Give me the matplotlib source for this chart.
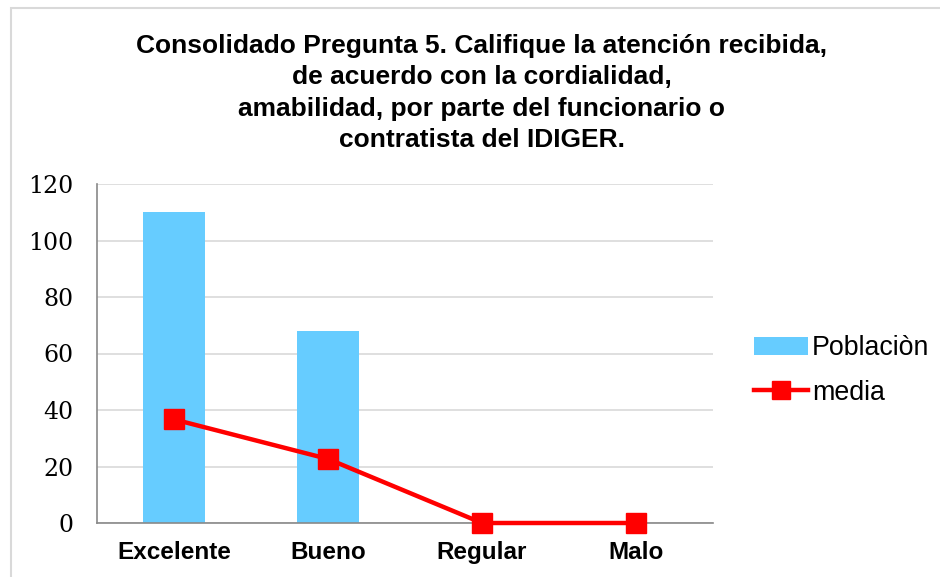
import matplotlib
matplotlib.use("Agg")
import matplotlib.pyplot as plt
from matplotlib.patches import Rectangle

categories = ["Excelente", "Bueno", "Regular", "Malo"]
poblacion = [110, 68, 0, 0]
media = [36.67, 22.67, 0, 0]
yticks = [0, 20, 40, 60, 80, 100, 120]
title = ("Consolidado Pregunta 5. Califique la atención recibida,\n"
         "de acuerdo con la cordialidad,\n"
         "amabilidad, por parte del funcionario o\n"
         "contratista del IDIGER.")

fig = plt.figure(figsize=(9.4, 5.77), dpi=100)
fig.patches.append(Rectangle((11/940, -0.1), 2.0, 1.1 - 8/577, transform=fig.transFigure,
                             fill=False, edgecolor="#d9d9d9", linewidth=1.5))
ax = fig.add_axes([97/940, 1-523/577, 616/940, 339/577])

x = list(range(len(categories)))
bars = ax.bar(x, poblacion, width=0.4, color="#66CCFF", label="Poblaciòn", zorder=2)
line, = ax.plot(x, media, color="#FF0000", linewidth=3.2, marker="s", markersize=14.5,
                label="media", zorder=3, clip_on=False)

ax.set_xlim(-0.5, 3.5)
ax.set_ylim(0, 120)
ax.set_yticks(yticks)
ax.set_yticklabels([str(v) for v in yticks], family="DejaVu Serif", fontsize=17)
ax.set_xticks(x)
ax.set_xticklabels(categories, family="Liberation Sans", fontweight="bold", fontsize=17.5)
ax.tick_params(axis="y", length=0, pad=17)
ax.tick_params(axis="x", length=0, pad=13)
ax.grid(axis="y", color="#d9d9d9", linewidth=1.2, zorder=0)
ax.set_axisbelow(True)
for s in ["top", "right"]:
    ax.spines[s].set_visible(False)
ax.spines["left"].set_color("#898989")
ax.spines["bottom"].set_color("#898989")
ax.spines["left"].set_linewidth(1.2)
ax.spines["bottom"].set_linewidth(1.2)

fig.text(482/940, 1-34/577, title, ha="center", va="top", family="Liberation Sans",
         fontweight="bold", fontsize=19, linespacing=1.39)

leg = ax.legend([bars, line], ["Poblaciòn", "media"], loc="center left",
                bbox_to_anchor=(1.067, 0.45), frameon=False, borderpad=0, borderaxespad=0,
                prop={"family": "Liberation Sans", "size": 19.3}, handlelength=2.0,
                handletextpad=0.15, labelspacing=0.68, markerscale=0.85)

fig.savefig("out.png", dpi=100)
